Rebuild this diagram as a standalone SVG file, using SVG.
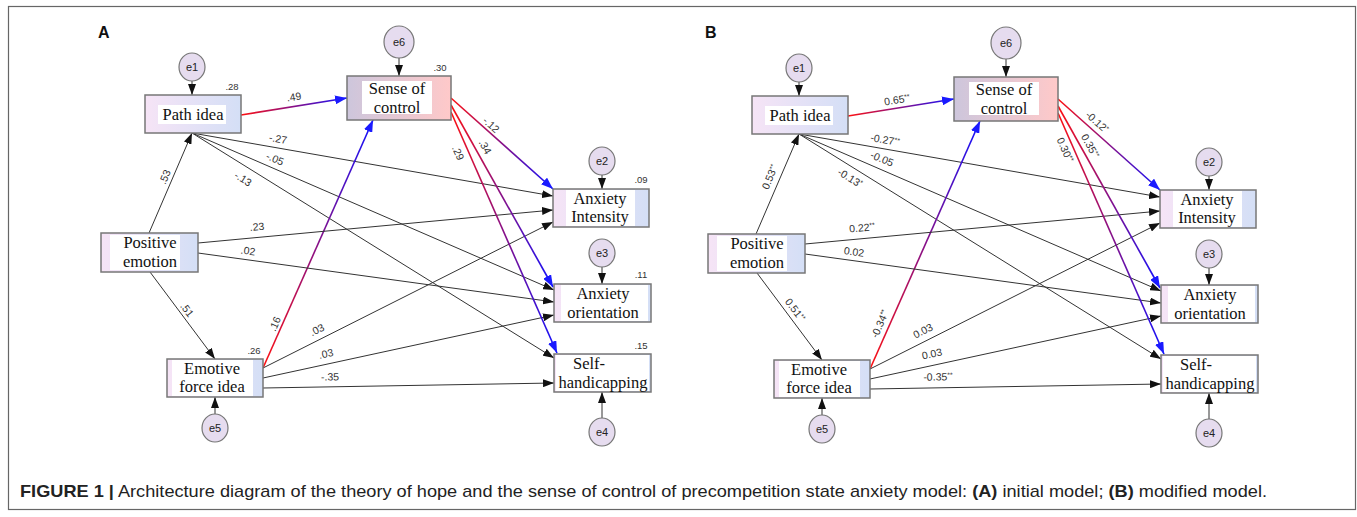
<svg xmlns="http://www.w3.org/2000/svg" width="1357" height="517" viewBox="0 0 1357 517">
<style>
.box{stroke:#777;stroke-width:1.5}
.tb{fill:#fff}
.nt{font-family:"Liberation Serif",serif;font-size:16.5px;text-anchor:middle;fill:#111}
.r2{font-family:"Liberation Sans",Arial,sans-serif;font-size:9.5px;text-anchor:middle;fill:#333}
.el{fill:#e6dcef;stroke:#777;stroke-width:1.2}
.et{font-family:"Liberation Sans",Arial,sans-serif;font-size:11px;text-anchor:middle;fill:#222}
.k{stroke:#333;stroke-width:1;fill:none}
.c{stroke-width:1.6;fill:none}
.lb{font-family:"Liberation Sans",Arial,sans-serif;font-size:10.5px;text-anchor:middle;fill:#333}
.st{font-size:7px}
.cap{font-family:"Liberation Sans",Arial,sans-serif;font-size:17px;fill:#222}
.pl{font-family:"Liberation Sans",Arial,sans-serif;font-size:16px;font-weight:bold;fill:#111}
</style>
<defs>
<marker id="mk" markerUnits="userSpaceOnUse" markerWidth="11" markerHeight="8" refX="11" refY="4" orient="auto"><path d="M0,0 L11,4 L0,8 z" fill="#111"/></marker>
<marker id="mb" markerUnits="userSpaceOnUse" markerWidth="12" markerHeight="9" refX="12" refY="4.5" orient="auto"><path d="M0,0 L12,4.5 L0,9 z" fill="#1a1aff"/></marker>
<linearGradient id="gBox" x1="0" y1="0" x2="1" y2="0"><stop offset="0" stop-color="#f6e4f6"/><stop offset="1" stop-color="#d4dff6"/></linearGradient>
<linearGradient id="gSC" x1="0" y1="0" x2="1" y2="0"><stop offset="0" stop-color="#cdc6dc"/><stop offset="1" stop-color="#ffc9c9"/></linearGradient>
<linearGradient id="g1" gradientUnits="userSpaceOnUse" x1="241" y1="115" x2="347" y2="98"><stop offset="0" stop-color="#ff1010"/><stop offset="1" stop-color="#1010ff"/></linearGradient>
<linearGradient id="g2" gradientUnits="userSpaceOnUse" x1="263" y1="368" x2="373" y2="120"><stop offset="0" stop-color="#ff1010"/><stop offset="1" stop-color="#1010ff"/></linearGradient>
<linearGradient id="g3" gradientUnits="userSpaceOnUse" x1="451" y1="98" x2="553" y2="189"><stop offset="0" stop-color="#ff1010"/><stop offset="1" stop-color="#1010ff"/></linearGradient>
<linearGradient id="g4" gradientUnits="userSpaceOnUse" x1="451" y1="105" x2="553" y2="287"><stop offset="0" stop-color="#ff1010"/><stop offset="1" stop-color="#1010ff"/></linearGradient>
<linearGradient id="g5" gradientUnits="userSpaceOnUse" x1="451" y1="112" x2="557" y2="353"><stop offset="0" stop-color="#ff1010"/><stop offset="1" stop-color="#1010ff"/></linearGradient>
</defs>
<rect x="0" y="0" width="1357" height="517" fill="#fff"/>
<rect x="8.5" y="6.5" width="1347" height="503" fill="none" stroke="#666" stroke-width="1.2"/>

<!-- ================= Panel A ================= -->
<g id="panelA">
<text class="pl" x="98" y="38">A</text>
<g id="A-connectors">
<line class="c" x1="241" y1="115" x2="347" y2="98" stroke="url(#g1)" marker-end="url(#mb)"/>
<line class="k" x1="192" y1="133" x2="553" y2="196" marker-end="url(#mk)"/>
<line class="k" x1="192" y1="133" x2="554" y2="290" marker-end="url(#mk)"/>
<line class="k" x1="192" y1="133" x2="554" y2="358" marker-end="url(#mk)"/>
<line class="k" x1="149" y1="233" x2="192" y2="133" marker-end="url(#mk)"/>
<line class="k" x1="150" y1="272" x2="215" y2="359" marker-end="url(#mk)"/>
<line class="c" x1="263" y1="368" x2="373" y2="120" stroke="url(#g2)" marker-end="url(#mb)"/>
<line class="k" x1="263" y1="368" x2="553" y2="222" marker-end="url(#mk)"/>
<line class="k" x1="263" y1="378" x2="554" y2="315" marker-end="url(#mk)"/>
<line class="k" x1="263" y1="388" x2="554" y2="383" marker-end="url(#mk)"/>
<line class="k" x1="198" y1="243" x2="553" y2="210" marker-end="url(#mk)"/>
<line class="k" x1="198" y1="253" x2="554" y2="302" marker-end="url(#mk)"/>
<line class="c" x1="451" y1="98" x2="553" y2="189" stroke="url(#g3)" marker-end="url(#mb)"/>
<line class="c" x1="451" y1="105" x2="553" y2="287" stroke="url(#g4)" marker-end="url(#mb)"/>
<line class="c" x1="451" y1="112" x2="557" y2="353" stroke="url(#g5)" marker-end="url(#mb)"/>
<line class="k" x1="192" y1="81" x2="192" y2="95" marker-end="url(#mk)"/>
<line class="k" x1="399" y1="58" x2="399" y2="76" marker-end="url(#mk)"/>
<line class="k" x1="602" y1="175" x2="602" y2="189" marker-end="url(#mk)"/>
<line class="k" x1="602" y1="267" x2="602" y2="284" marker-end="url(#mk)"/>
<line class="k" x1="602" y1="418" x2="602" y2="392" marker-end="url(#mk)"/>
<line class="k" x1="215" y1="414" x2="215" y2="397" marker-end="url(#mk)"/>
<g id="A-edge-labels">
<text class="lb" transform="translate(294,97) rotate(-9)" y="3.5">.49</text>
<text class="lb" transform="translate(278,139) rotate(10.5)" y="3.5">-.27</text>
<text class="lb" transform="translate(275,159) rotate(23)" y="3.5">-.05</text>
<text class="lb" transform="translate(243,179) rotate(32)" y="3.5">-.13</text>
<text class="lb" transform="translate(165,177) rotate(-67)" y="3.5">.53</text>
<text class="lb" transform="translate(257,227) rotate(-5)" y="3.5">.23</text>
<text class="lb" transform="translate(248,251) rotate(8)" y="3.5">.02</text>
<text class="lb" transform="translate(187,310) rotate(53)" y="3.5">.51</text>
<text class="lb" transform="translate(275,324) rotate(-66)" y="3.5">.16</text>
<text class="lb" transform="translate(317,330) rotate(-27)" y="3.5">.03</text>
<text class="lb" transform="translate(326,354) rotate(-12)" y="3.5">.03</text>
<text class="lb" transform="translate(330,377) rotate(-1)" y="3.5">-.35</text>
<text class="lb" transform="translate(491,125) rotate(42)" y="3.5">-.12</text>
<text class="lb" transform="translate(485,147) rotate(61)" y="3.5">.34</text>
<text class="lb" transform="translate(458,153) rotate(66)" y="3.5">.29</text>
</g>
</g>
<g id="A-path-idea"><rect class="box" x="145" y="95" width="96" height="38" fill="url(#gBox)"/><rect class="tb" x="158" y="105" width="68" height="19"/><text class="nt" x="193" y="120">Path idea</text><text class="r2" x="232" y="90">.28</text></g>
<g id="A-sense-of-control"><rect class="box" x="347" y="76" width="104" height="44" fill="url(#gSC)"/><rect class="tb" x="362" y="81" width="70" height="33"/><text class="nt"><tspan x="397" y="94">Sense of</tspan><tspan x="397" dy="18.5">control</tspan></text><text class="r2" x="440" y="71">.30</text></g>
<g id="A-positive-emotion"><rect class="box" x="101" y="233" width="97" height="39" fill="url(#gBox)"/><rect class="tb" x="110" y="235" width="70" height="35"/><text class="nt"><tspan x="150" y="248">Positive</tspan><tspan x="150" dy="18.5">emotion</tspan></text></g>
<g id="A-emotive-force-idea"><rect class="box" x="167" y="359" width="96" height="38" fill="url(#gBox)"/><rect class="tb" x="172" y="360" width="81" height="36"/><text class="nt"><tspan x="212" y="373.5">Emotive</tspan><tspan x="212" dy="18.5">force idea</tspan></text><text class="r2" x="254" y="354">.26</text></g>
<g id="A-anxiety-intensity"><rect class="box" x="553" y="189" width="96" height="38" fill="url(#gBox)"/><rect class="tb" x="566" y="190" width="69" height="36"/><text class="nt"><tspan x="600" y="203.5">Anxiety</tspan><tspan x="600" dy="18.5">Intensity</tspan></text><text class="r2" x="641" y="183">.09</text></g>
<g id="A-anxiety-orientation"><rect class="box" x="554" y="284" width="97" height="38" fill="url(#gBox)"/><rect class="tb" x="561" y="285" width="87" height="36"/><text class="nt"><tspan x="603" y="299">Anxiety</tspan><tspan x="603" dy="18.5">orientation</tspan></text><text class="r2" x="641" y="278">.11</text></g>
<g id="A-self-handicapping"><rect class="box" x="554" y="354" width="97" height="38" fill="url(#gBox)"/><rect class="tb" x="556" y="355" width="93" height="36"/><text class="nt"><tspan x="589" y="369">Self-</tspan><tspan x="603" dy="18.5">handicapping</tspan></text><text class="r2" x="641" y="349">.15</text></g>
<g id="A-e1"><ellipse class="el" cx="192" cy="67" rx="13" ry="14"/><text class="et" x="192" y="71">e1</text></g>
<g id="A-e6"><ellipse class="el" cx="399" cy="42" rx="15" ry="16"/><text class="et" x="399" y="46">e6</text></g>
<g id="A-e2"><ellipse class="el" cx="602" cy="161" rx="13" ry="14"/><text class="et" x="602" y="165">e2</text></g>
<g id="A-e3"><ellipse class="el" cx="602" cy="253" rx="13" ry="14"/><text class="et" x="602" y="257">e3</text></g>
<g id="A-e4"><ellipse class="el" cx="602" cy="432" rx="13" ry="14"/><text class="et" x="602" y="436">e4</text></g>
<g id="A-e5"><ellipse class="el" cx="215" cy="428" rx="13" ry="14"/><text class="et" x="215" y="432">e5</text></g>
</g>

<!-- ================= Panel B ================= -->
<g id="panelB">
<text class="pl" x="705" y="38">B</text>
<g transform="translate(607,1)">
<g id="B-connectors">
<line class="c" x1="241" y1="115" x2="347" y2="98" stroke="url(#g1)" marker-end="url(#mb)"/>
<line class="k" x1="192" y1="133" x2="553" y2="196" marker-end="url(#mk)"/>
<line class="k" x1="192" y1="133" x2="554" y2="290" marker-end="url(#mk)"/>
<line class="k" x1="192" y1="133" x2="554" y2="358" marker-end="url(#mk)"/>
<line class="k" x1="149" y1="233" x2="192" y2="133" marker-end="url(#mk)"/>
<line class="k" x1="150" y1="272" x2="215" y2="359" marker-end="url(#mk)"/>
<line class="c" x1="263" y1="368" x2="373" y2="120" stroke="url(#g2)" marker-end="url(#mb)"/>
<line class="k" x1="263" y1="368" x2="553" y2="222" marker-end="url(#mk)"/>
<line class="k" x1="263" y1="378" x2="554" y2="315" marker-end="url(#mk)"/>
<line class="k" x1="263" y1="388" x2="554" y2="383" marker-end="url(#mk)"/>
<line class="k" x1="198" y1="243" x2="553" y2="210" marker-end="url(#mk)"/>
<line class="k" x1="198" y1="253" x2="554" y2="302" marker-end="url(#mk)"/>
<line class="c" x1="451" y1="98" x2="553" y2="189" stroke="url(#g3)" marker-end="url(#mb)"/>
<line class="c" x1="451" y1="105" x2="553" y2="287" stroke="url(#g4)" marker-end="url(#mb)"/>
<line class="c" x1="451" y1="112" x2="557" y2="353" stroke="url(#g5)" marker-end="url(#mb)"/>
<line class="k" x1="192" y1="81" x2="192" y2="95" marker-end="url(#mk)"/>
<line class="k" x1="399" y1="58" x2="399" y2="76" marker-end="url(#mk)"/>
<line class="k" x1="602" y1="175" x2="602" y2="189" marker-end="url(#mk)"/>
<line class="k" x1="602" y1="267" x2="602" y2="284" marker-end="url(#mk)"/>
<line class="k" x1="602" y1="418" x2="602" y2="392" marker-end="url(#mk)"/>
<line class="k" x1="215" y1="414" x2="215" y2="397" marker-end="url(#mk)"/>
<g id="B-edge-labels">
<text class="lb" transform="translate(290,99) rotate(-9)" y="3.5">0.65<tspan class="st" dy="-3">**</tspan></text>
<text class="lb" transform="translate(278,139) rotate(10.5)" y="3.5">-0.27<tspan class="st" dy="-3">**</tspan></text>
<text class="lb" transform="translate(275,158) rotate(23)" y="3.5">-0.05</text>
<text class="lb" transform="translate(243,177) rotate(32)" y="3.5">-0.13<tspan class="st" dy="-3">*</tspan></text>
<text class="lb" transform="translate(163,176) rotate(-67)" y="3.5">0.53<tspan class="st" dy="-3">**</tspan></text>
<text class="lb" transform="translate(255,227) rotate(-5)" y="3.5">0.22<tspan class="st" dy="-3">**</tspan></text>
<text class="lb" transform="translate(247,251) rotate(8)" y="3.5">0.02</text>
<text class="lb" transform="translate(188,309) rotate(53)" y="3.5">0.51<tspan class="st" dy="-3">**</tspan></text>
<text class="lb" transform="translate(273,323) rotate(-66)" y="3.5">-0.34<tspan class="st" dy="-3">**</tspan></text>
<text class="lb" transform="translate(316,330) rotate(-27)" y="3.5">0.03</text>
<text class="lb" transform="translate(325,353) rotate(-12)" y="3.5">0.03</text>
<text class="lb" transform="translate(331,376) rotate(-1)" y="3.5">-0.35<tspan class="st" dy="-3">**</tspan></text>
<text class="lb" transform="translate(490,121) rotate(42)" y="3.5">-0.12<tspan class="st" dy="-3">*</tspan></text>
<text class="lb" transform="translate(483,145) rotate(61)" y="3.5">0.35<tspan class="st" dy="-3">**</tspan></text>
<text class="lb" transform="translate(458,149) rotate(66)" y="3.5">0.30<tspan class="st" dy="-3">**</tspan></text>
</g>
</g>
<g id="B-path-idea"><rect class="box" x="145" y="95" width="96" height="38" fill="url(#gBox)"/><rect class="tb" x="158" y="105" width="68" height="19"/><text class="nt" x="193" y="120">Path idea</text></g>
<g id="B-sense-of-control"><rect class="box" x="347" y="76" width="104" height="44" fill="url(#gSC)"/><rect class="tb" x="362" y="81" width="70" height="33"/><text class="nt"><tspan x="397" y="94">Sense of</tspan><tspan x="397" dy="18.5">control</tspan></text></g>
<g id="B-positive-emotion"><rect class="box" x="101" y="233" width="97" height="39" fill="url(#gBox)"/><rect class="tb" x="110" y="235" width="70" height="35"/><text class="nt"><tspan x="150" y="248">Positive</tspan><tspan x="150" dy="18.5">emotion</tspan></text></g>
<g id="B-emotive-force-idea"><rect class="box" x="167" y="359" width="96" height="38" fill="url(#gBox)"/><rect class="tb" x="172" y="360" width="81" height="36"/><text class="nt"><tspan x="212" y="373.5">Emotive</tspan><tspan x="212" dy="18.5">force idea</tspan></text></g>
<g id="B-anxiety-intensity"><rect class="box" x="553" y="189" width="96" height="38" fill="url(#gBox)"/><rect class="tb" x="566" y="190" width="69" height="36"/><text class="nt"><tspan x="600" y="203.5">Anxiety</tspan><tspan x="600" dy="18.5">Intensity</tspan></text></g>
<g id="B-anxiety-orientation"><rect class="box" x="554" y="284" width="97" height="38" fill="url(#gBox)"/><rect class="tb" x="561" y="285" width="87" height="36"/><text class="nt"><tspan x="603" y="299">Anxiety</tspan><tspan x="603" dy="18.5">orientation</tspan></text></g>
<g id="B-self-handicapping"><rect class="box" x="554" y="354" width="97" height="38" fill="url(#gBox)"/><rect class="tb" x="556" y="355" width="93" height="36"/><text class="nt"><tspan x="589" y="369">Self-</tspan><tspan x="603" dy="18.5">handicapping</tspan></text></g>
<g id="B-e1"><ellipse class="el" cx="192" cy="67" rx="13" ry="14"/><text class="et" x="192" y="71">e1</text></g>
<g id="B-e6"><ellipse class="el" cx="399" cy="42" rx="15" ry="16"/><text class="et" x="399" y="46">e6</text></g>
<g id="B-e2"><ellipse class="el" cx="602" cy="161" rx="13" ry="14"/><text class="et" x="602" y="165">e2</text></g>
<g id="B-e3"><ellipse class="el" cx="602" cy="253" rx="13" ry="14"/><text class="et" x="602" y="257">e3</text></g>
<g id="B-e4"><ellipse class="el" cx="602" cy="432" rx="13" ry="14"/><text class="et" x="602" y="436">e4</text></g>
<g id="B-e5"><ellipse class="el" cx="215" cy="428" rx="13" ry="14"/><text class="et" x="215" y="432">e5</text></g>
</g>
</g>

<text class="cap" x="20" y="497" textLength="1247" lengthAdjust="spacingAndGlyphs"><tspan font-weight="bold">FIGURE 1 |</tspan> Architecture diagram of the theory of hope and the sense of control of precompetition state anxiety model: <tspan font-weight="bold">(A)</tspan> initial model; <tspan font-weight="bold">(B)</tspan> modified model.</text>
</svg>
